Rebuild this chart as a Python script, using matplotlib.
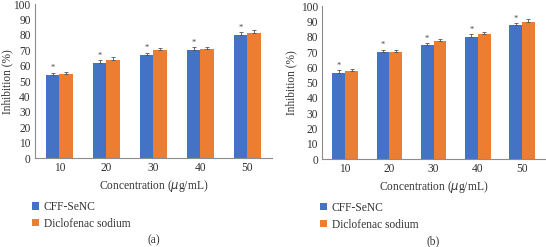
import matplotlib
matplotlib.use("Agg")
import matplotlib.pyplot as plt
import numpy as np
from matplotlib.patches import Patch

concentrations = ["10", "20", "30", "40", "50"]
cff_a = [54, 62, 67, 70.5, 80]
dic_a = [54.5, 64, 70, 71, 81]
cff_a_err = [1.5, 1.5, 1.5, 1.5, 2]
dic_a_err = [1.5, 1.5, 1.5, 1.5, 2]
cff_b = [56.5, 70, 74.5, 80, 87.5]
dic_b = [57.5, 70, 77, 81.5, 89.5]
cff_b_err = [1.5, 1.5, 1.5, 1.5, 1.5]
dic_b_err = [1.5, 1.5, 1.5, 1.5, 2]
series_names = ["CFF-SeNC", "Diclofenac sodium"]
panel_labels = ["(a)", "(b)"]
yticks = list(range(0, 101, 10))

blue = "#4472C4"
orange = "#ED7D31"
axis_gray = "#8C8C8C"

plt.rcParams['font.family'] = ['Liberation Serif', 'DejaVu Serif']

fig = plt.figure(figsize=(5.46, 2.47), dpi=100)

panels = [
    ([0.064, 0.360, 0.434, 0.623], cff_a, dic_a, cff_a_err, dic_a_err, -0.092),
    ([0.590, 0.356, 0.408, 0.619], cff_b, dic_b, cff_b_err, dic_b_err, -0.112),
]

for i, (rect, c, d, ce, de, ylx) in enumerate(panels):
    ax = fig.add_axes(rect)
    x = np.arange(len(concentrations))
    w = 0.29
    ax.bar(x - w / 2, c, w, color=blue, zorder=2)
    ax.bar(x + w / 2, d, w, color=orange, zorder=2)
    ax.errorbar(x - w / 2, c, yerr=[np.zeros(len(c)), ce], fmt='none',
                ecolor='#555555', elinewidth=0.6, capsize=1.2, capthick=0.6, zorder=3)
    ax.errorbar(x + w / 2, d, yerr=[np.zeros(len(d)), de], fmt='none',
                ecolor='#555555', elinewidth=0.6, capsize=1.2, capthick=0.6, zorder=3)
    for xi, yi, ei in zip(x - w / 2, c, ce):
        ax.text(xi, yi + ei + 0.3, "*", ha='center', va='bottom', fontsize=6, color='#444444')
    ax.set_xlim(-0.52, len(concentrations) - 0.48)
    ax.set_ylim(0, 100)
    ax.set_yticks(yticks)
    ax.set_xticks(x)
    ax.set_xticklabels(concentrations)
    ax.tick_params(axis='both', length=0, labelsize=8.3, colors='#333333', pad=3)
    for s in ['top', 'right']:
        ax.spines[s].set_visible(False)
    for s in ['left', 'bottom']:
        ax.spines[s].set_color(axis_gray)
        ax.spines[s].set_linewidth(0.8)
    ax.set_ylabel("Inhibition (%)", fontsize=8.3, color='#333333')
    ax.yaxis.set_label_coords(ylx, 0.5)
    ax.set_xlabel("Concentration ($\\mu$g/mL)", fontsize=8.3, color='#333333', labelpad=3)
    handles = [Patch(facecolor=blue), Patch(facecolor=orange)]
    leg = ax.legend(handles, series_names, loc='upper left',
                    bbox_to_anchor=(-0.03, -0.25), frameon=False, fontsize=8.3,
                    handlelength=0.6, handleheight=0.6, handletextpad=0.4,
                    labelspacing=0.4, borderaxespad=0)
    for t in leg.get_texts():
        t.set_color('#333333')
    ax.text(0.5, -0.535, panel_labels[i], transform=ax.transAxes, ha='center',
            va='center', fontsize=8.3, color='#333333')

fig.savefig("out.png", dpi=100)
